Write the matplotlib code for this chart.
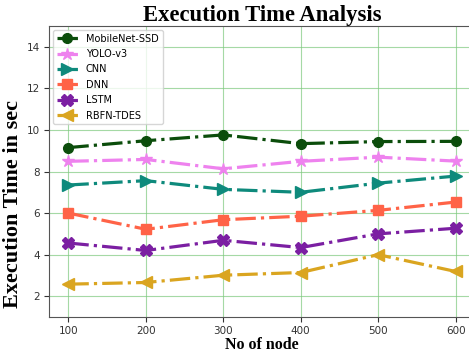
import matplotlib
matplotlib.use("Agg")
import matplotlib.pyplot as plt

nodes = [100, 200, 300, 400, 500, 600]
mobilenet = [9.15, 9.48, 9.76, 9.34, 9.44, 9.45]
yolo = [8.49, 8.58, 8.13, 8.49, 8.69, 8.50]
cnn = [7.35, 7.56, 7.14, 7.00, 7.44, 7.78]
dnn = [6.00, 5.22, 5.68, 5.85, 6.13, 6.53]
lstm = [4.56, 4.20, 4.69, 4.34, 5.00, 5.27]
rbfn = [2.58, 2.66, 3.01, 3.14, 4.00, 3.19]

series = [
    ("MobileNet-SSD", mobilenet, "o", "#0b4d0b", 7),
    ("YOLO-v3", yolo, "*", "violet", 9),
    ("CNN", cnn, ">", "#0e8a7c", 8),
    ("DNN", dnn, "s", "tomato", 7.5),
    ("LSTM", lstm, "X", "#7b1fa2", 8),
    ("RBFN-TDES", rbfn, "<", "goldenrod", 8),
]

fig = plt.figure(figsize=(4.69, 3.55), dpi=100)
ax = fig.add_axes([49/469, 1-317/355, (475-49)/469, (317-26)/355])

for name, vals, mk, col, ms in series:
    ax.plot(nodes, vals, linestyle="-.", marker=mk, color=col, linewidth=2.3,
            markersize=ms, label=name)

ax.set_xlim(75, 625)
ax.set_ylim(1, 15)
ax.set_xticks(nodes)
ax.set_yticks([2, 4, 6, 8, 10, 12, 14])
ax.tick_params(labelsize=7.5, colors="#333333", pad=3)
ax.grid(True, color="#7fc97f", alpha=0.7, linewidth=0.8)
for s in ax.spines.values():
    s.set_color("#555555")

serif = ["Liberation Serif", "DejaVu Serif"]
ax.set_title("Execution Time Analysis", fontsize=16.3, fontweight="bold", family=serif, pad=3)
ax.set_xlabel("No of node", fontsize=11.5, fontweight="bold", family=serif, labelpad=1)
ax.set_ylabel("Execution Time in sec", fontsize=16, fontweight="bold", family=serif)
ax.yaxis.set_label_coords(-0.062, 0.388)

ax.legend(loc="upper left", fontsize=7, framealpha=0.8, handlelength=2.2,
          borderaxespad=0.4, labelspacing=0.55)

fig.savefig("out.png", dpi=100)
